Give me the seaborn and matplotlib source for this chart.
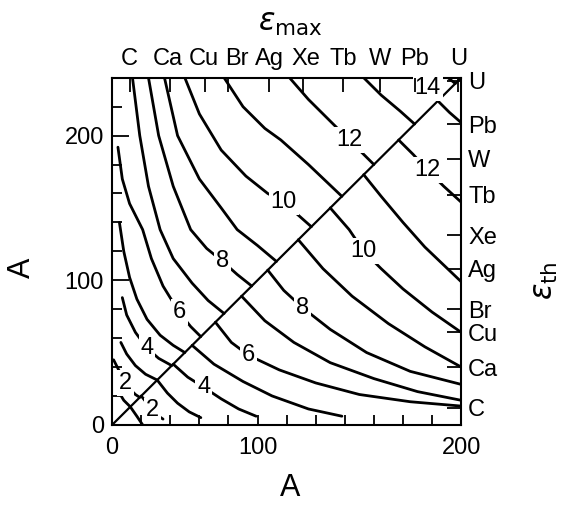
import matplotlib
matplotlib.use("Agg")
import matplotlib.pyplot as plt
import seaborn as sns
import pandas as pd

sns.set_theme(style="white")
plt.rcParams['font.family'] = ['Liberation Sans', 'DejaVu Sans']
plt.rcParams['text.color'] = 'black'
plt.rcParams['xtick.color'] = 'black'
plt.rcParams['ytick.color'] = 'black'
plt.rcParams['axes.labelcolor'] = 'black'

# element labels and mass numbers (top = eps_max, right = eps_th)
elements = ["C", "Ca", "Cu", "Br", "Ag", "Xe", "Tb", "W", "Pb", "U"]
element_A = [12, 40, 64, 80, 108, 131, 159, 184, 208, 238]

# bottom / left tick labels
x_tick_values = [0, 100, 240]
x_tick_labels = ["0", "100", "200"]
y_tick_values = [0, 100, 200]
y_tick_labels = ["0", "100", "200"]

# upper triangle contours (eps_max) (A_x, A_y)
upper = {
    1: ([5, 8, 12.5], [22, 17, 12.5]),
    2: ([1, 4, 7, 9, 12, 16, 19], [45, 39, 33, 29, 25, 21, 19]),
    3: ([6, 10, 16, 23, 31], [57, 49, 41, 35, 31]),
    4: ([7, 10, 16, 24, 32, 41], [88, 76, 64, 53, 46, 41]),
    5: ([5, 8, 12, 17, 24, 33, 42, 50], [140, 120, 102, 87, 73, 62, 55, 50]),
    6: ([4, 7, 12, 21, 27, 35, 46, 54, 61], [192, 170, 153, 135, 115, 96, 78, 68, 61]),
    7: ([14, 19, 25, 33, 42, 55, 66, 77], [240, 200, 165, 135, 115, 98, 86, 77]),
    8: ([25, 32, 42, 54, 65, 76, 86, 96], [240, 200, 165, 135, 122, 113, 104, 96]),
    9: ([36, 45, 60, 75, 86, 100, 113], [240, 200, 170, 150, 135, 124, 113]),
    10: ([50, 60, 75, 92, 107, 118, 128, 137], [240, 215, 190, 172, 160, 154, 145, 137]),
    11: ([77, 90, 105, 116, 135, 158], [240, 220, 205, 197, 180, 158]),
    12: ([122, 135, 150, 163, 172, 180], [240, 225, 210, 197, 188, 180]),
    13: ([173, 185, 198, 208], [240, 228, 217, 208]),
    14: ([231, 236], [240, 236]),
}
upper_label_pos = {2: (9, 29), 4: (24, 53), 6: (46, 78), 8: (76, 113),
                   10: (118, 154), 12: (163, 197), 14: (217, 233)}

# lower triangle contours (eps_th)
lower = {
    1: ([12.5, 17, 21], [12.5, 6, 0]),
    2: ([20, 24, 28, 32, 35], [20, 15, 10, 6, 4]),
    3: ([31, 38, 45, 53, 61], [31, 22, 15, 9, 5]),
    4: ([42, 52, 63, 75, 87, 99], [42, 33, 26, 18, 11, 6]),
    5: ([55, 70, 90, 110, 135, 158], [55, 42, 30, 20, 11, 6]),
    6: ([71, 82, 94, 115, 140, 170, 205, 240], [71, 57, 48, 38, 29, 21, 16, 13]),
    7: ([89, 105, 125, 150, 180, 210, 240], [89, 72, 57, 43, 32, 23, 17]),
    8: ([107, 118, 131, 150, 175, 205, 240], [107, 93, 81, 66, 50, 37, 28]),
    9: ([128, 145, 165, 190, 215, 240], [128, 108, 89, 70, 54, 40]),
    10: ([150, 163, 173, 185, 200, 220, 240], [150, 135, 120, 108, 94, 78, 64]),
    11: ([173, 185, 200, 215, 240], [173, 158, 140, 123, 99]),
    12: ([197, 207, 217, 228, 240], [197, 187, 176, 165, 154]),
    13: ([224, 232, 240], [224, 216, 209]),
}
lower_label_pos = {2: (28, 10), 4: (63, 26), 6: (94, 48), 8: (131, 81),
                   10: (173, 120), 12: (217, 176)}

fig = plt.figure(figsize=(5.75, 5.15), dpi=100)
ax = fig.add_axes([0.195, 0.175, 0.607, 0.674])

def draw(curves):
    for lev, (xs, ys) in curves.items():
        df = pd.DataFrame({"x": xs, "y": ys})
        sns.lineplot(data=df, x="x", y="y", sort=False, estimator=None,
                     color="black", lw=2.0, ax=ax)

draw(upper)
draw(lower)
sns.lineplot(x=[0, 240], y=[0, 240], sort=False, estimator=None, color="black", lw=1.6, ax=ax)

for lab, (x, y) in list(upper_label_pos.items()) + list(lower_label_pos.items()):
    ax.text(x, y, str(lab), fontsize=17, ha="center", va="center", color="black",
            bbox=dict(boxstyle="square,pad=0.08", fc="white", ec="none"), zorder=5)

ax.set_xlim(0, 240)
ax.set_ylim(0, 240)
ax.set_xlabel("")
ax.set_ylabel("")
for s in ax.spines.values():
    s.set_color("black")
    s.set_linewidth(1.5)

ax.set_xticks(x_tick_values)
ax.set_xticklabels(x_tick_labels, fontsize=17)
ax.set_xticks(list(range(0, 241, 20)), minor=True)
ax.set_yticks(y_tick_values)
ax.set_yticklabels(y_tick_labels, fontsize=17)
ax.set_yticks(list(range(0, 241, 20)), minor=True)
ax.tick_params(axis="y", which="major", direction="in", length=12, width=1.3, color="black", pad=6)
ax.tick_params(axis="x", which="major", direction="in", length=7, width=1.3, color="black", pad=9)
ax.tick_params(which="minor", direction="in", length=7, width=1.3, color="black")

# top axis: ticks at element masses, labels nudged apart like the reference
top_label_shift = {"Br": 6, "Ca": -2, "Cu": -1, "Xe": 2}
axt = ax.twiny()
axt.set_xlim(0, 240)
axt.set_xticks(element_A)
axt.set_xticklabels([])
axt.tick_params(direction="in", length=10, width=1.3, color="black")
for name, a in zip(elements, element_A):
    axt.text(a + top_label_shift.get(name, 0), 1.022, name, transform=axt.get_xaxis_transform(),
             fontsize=17, ha="center", va="bottom", color="black")

axr = ax.twinx()
axr.set_ylim(0, 240)
axr.set_yticks(element_A)
axr.set_yticklabels(elements, fontsize=17)
axr.tick_params(direction="in", length=10, width=1.3, color="black", pad=5)
for a in (axt, axr):
    for s in a.spines.values():
        s.set_visible(False)

fig.text(0.505, 0.052, "A", fontsize=22, ha="center", va="center", color="black")
fig.text(0.038, 0.48, "A", fontsize=22, ha="center", va="center", rotation=90, color="black")
fig.text(0.505, 0.955, r"$\varepsilon_{\mathrm{max}}$", fontsize=22, ha="center", va="center", color="black")
fig.text(0.948, 0.455, r"$\varepsilon_{\mathrm{th}}$", fontsize=22, ha="center", va="center", rotation=90, color="black")

fig.savefig("out.png", dpi=100)
